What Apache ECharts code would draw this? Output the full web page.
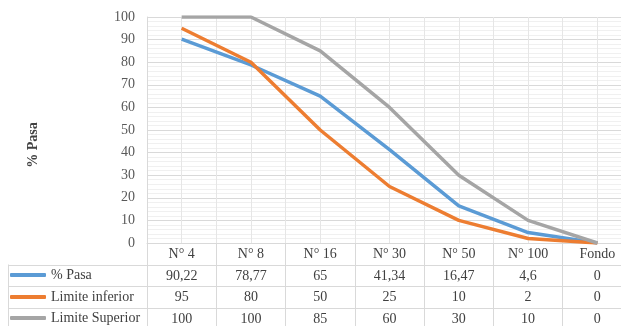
<!DOCTYPE html>
<html>
<head>
<meta charset="utf-8">
<script src="https://cdn.jsdelivr.net/npm/echarts@6/dist/echarts.min.js"></script>
<style>
  html, body { margin: 0; padding: 0; background: #fff; }
  #chart { width: 621px; height: 326px; }
</style>
</head>
<body>
<div id="chart"></div>
<script>
const categories = ['N° 4', 'N° 8', 'N° 16', 'N° 30', 'N° 50', 'N° 100', 'Fondo'];
const pasa = [90.22, 78.77, 65, 41.34, 16.47, 4.6, 0];
const limiteInferior = [95, 80, 50, 25, 10, 2, 0];
const limiteSuperior = [100, 100, 85, 60, 30, 10, 0];
const seriesNames = ['% Pasa', 'Limite inferior', 'Limite Superior'];
const yTicks = [0, 10, 20, 30, 40, 50, 60, 70, 80, 90, 100];

const FONT = '"Liberation Serif", "Times New Roman", serif';
const GRID_LEFT = 147, GRID_TOP = 17, GRID_H = 226, GRID_W = 485;
const ROW_H = 21.5;
const LINE_C = '#d9d9d9';
const fmt = v => String(v).replace('.', ',');

const chart = echarts.init(document.getElementById('chart'), null, { renderer: 'canvas' });

const tableTop = GRID_TOP + GRID_H;
const rowLines = [1, 2, 3].map(i => ({
  type: 'line',
  shape: { x1: 8, y1: Math.round(tableTop + ROW_H * i) + 0.5, x2: GRID_LEFT + GRID_W, y2: Math.round(tableTop + ROW_H * i) + 0.5 },
  style: { stroke: LINE_C, lineWidth: 1 },
  silent: true
}));

const legends = seriesNames.map((name, i) => ({
  orient: 'horizontal',
  left: 10,
  top: Math.round(tableTop + ROW_H * (i + 1.5)) - 8,
  padding: 0,
  itemWidth: 36,
  itemHeight: 4,
  icon: 'roundRect',
  data: [name],
  textStyle: { fontFamily: FONT, fontSize: 14, color: '#404040', lineHeight: 16 }
}));

chart.setOption({
  animation: false,
  backgroundColor: '#fff',
  color: ['#5B9BD5', '#ED7D31', '#A5A5A5'],
  grid: {
    left: GRID_LEFT, top: GRID_TOP, width: GRID_W, height: GRID_H,
    containLabel: false, outerBoundsMode: 'none'
  },
  legend: legends,
  graphic: [
    ...rowLines,
    {
      type: 'line',
      shape: { x1: 8.5, y1: tableTop + ROW_H, x2: 8.5, y2: 326 },
      style: { stroke: LINE_C, lineWidth: 1 },
      silent: true
    },
    {
      type: 'text',
      x: 33, y: 145,
      rotation: Math.PI / 2,
      style: {
        text: '% Pasa', fontFamily: FONT, fontSize: 14, fontWeight: 'bold',
        fill: '#404040', align: 'center', verticalAlign: 'middle'
      }
    }
  ],
  xAxis: [
    {
      type: 'category',
      data: categories,
      boundaryGap: true,
      axisLine: { show: true, lineStyle: { color: LINE_C, width: 1 } },
      axisTick: { show: true, length: 83, inside: false, lineStyle: { color: LINE_C, width: 1 } },
      splitLine: { show: true, lineStyle: { color: LINE_C, width: 1 } },
      axisLabel: {
        margin: 1,
        interval: 0,
        fontFamily: FONT,
        fontSize: 14,
        color: '#404040',
        lineHeight: ROW_H,
        formatter: (value, idx) => [
          value,
          fmt(pasa[idx]),
          fmt(limiteInferior[idx]),
          fmt(limiteSuperior[idx])
        ].join('\n')
      }
    },
    {
      type: 'value',
      min: 0, max: 7, interval: 0.5,
      position: 'bottom',
      axisLine: { show: false },
      axisTick: { show: false },
      axisLabel: { show: false },
      splitLine: { show: true, lineStyle: { color: '#e6e6e6', width: 1 } }
    }
  ],
  yAxis: {
    type: 'value',
    min: 0, max: 100, interval: 10,
    axisLine: { show: true, lineStyle: { color: LINE_C } },
    axisTick: { show: false },
    axisLabel: {
      margin: 12, fontFamily: FONT, fontSize: 14, color: '#595959',
      customValues: yTicks
    },
    splitLine: { show: true, lineStyle: { color: LINE_C, width: 1 } },
    minorTick: { show: false, splitNumber: 5 },
    minorSplitLine: { show: true, lineStyle: { color: '#f0f0f0', width: 1 } }
  },
  series: [
    { name: seriesNames[0], type: 'line', data: pasa, symbol: 'none', lineStyle: { width: 3.5 }, z: 3 },
    { name: seriesNames[1], type: 'line', data: limiteInferior, symbol: 'none', lineStyle: { width: 3.5 }, z: 4 },
    { name: seriesNames[2], type: 'line', data: limiteSuperior, symbol: 'none', lineStyle: { width: 3.5 }, z: 5 }
  ]
});
</script>
</body>
</html>
